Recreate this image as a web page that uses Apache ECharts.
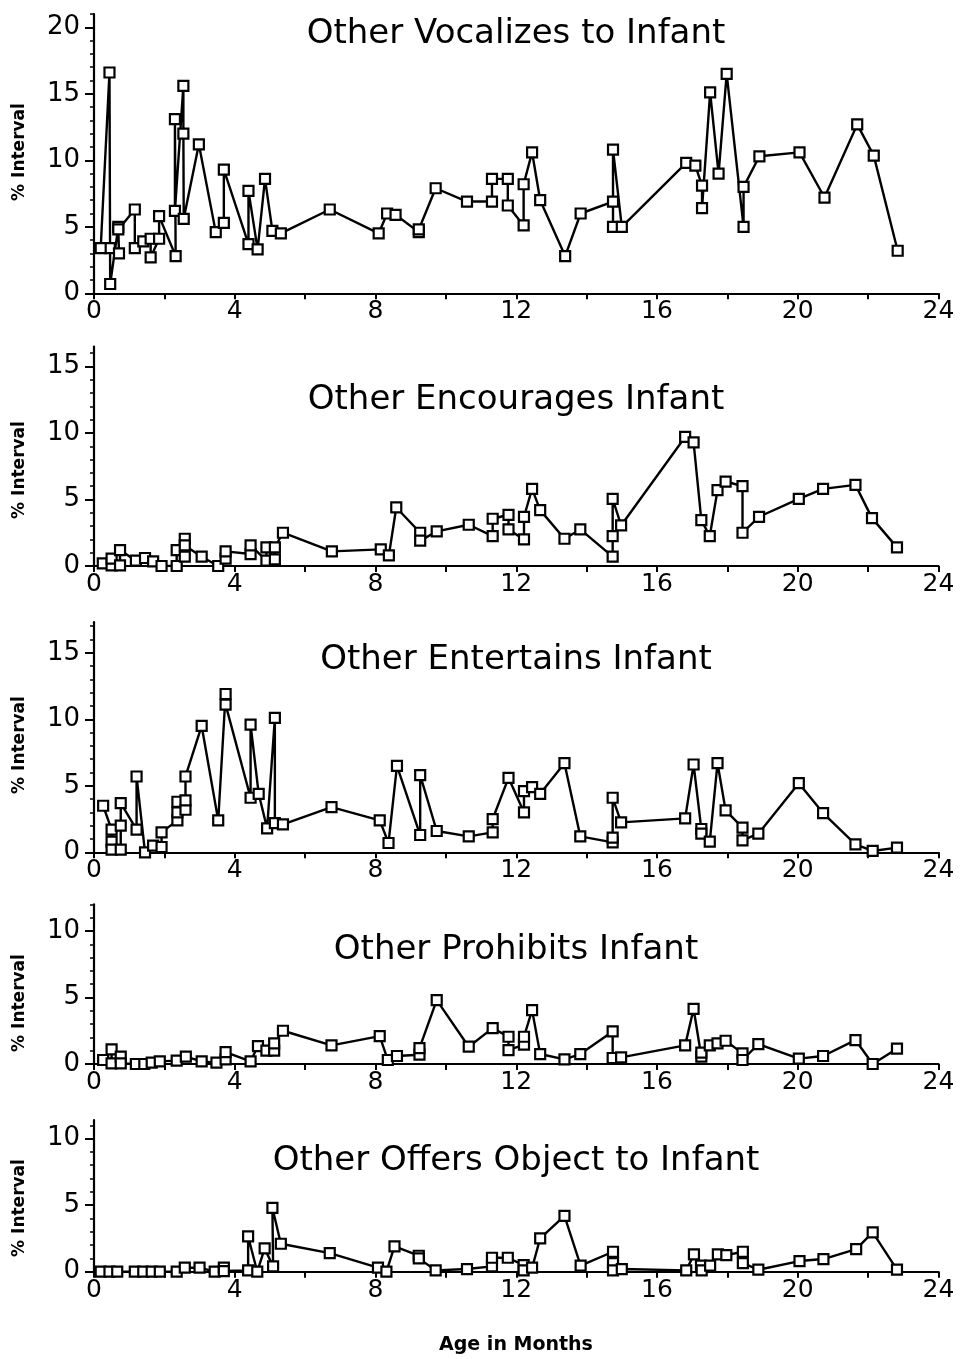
<!DOCTYPE html>
<html>
<head>
<meta charset="utf-8">
<title>Other behaviours by age</title>
<script src="https://cdn.jsdelivr.net/npm/echarts@6/dist/echarts.min.js"></script>
<style>
  html, body { margin: 0; padding: 0; background: #fff; }
  #chart { width: 965px; height: 1359px; }
</style>
</head>
<body>
<div id="chart"></div>
<script>
// [age in months, % interval]
const vocalizes = [
  [0.45, 3.4], [0.19, 3.4], [0.44, 16.6], [0.46, 0.7], [0.69, 5.0], [0.71, 3.0], [0.69, 4.8],
  [1.16, 6.3], [1.16, 3.4], [1.40, 3.9], [1.61, 4.1], [1.61, 2.7], [1.85, 4.1], [1.85, 5.8],
  [2.32, 2.8], [2.30, 13.1], [2.30, 6.2], [2.54, 15.6], [2.54, 12.0], [2.55, 5.6], [2.98, 11.2],
  [3.46, 4.6], [3.69, 5.3], [3.69, 9.3], [4.39, 3.7], [4.39, 7.7], [4.65, 3.3], [4.86, 8.6],
  [5.07, 4.7], [5.31, 4.5], [6.70, 6.3], [8.09, 4.5], [8.33, 6.0], [8.57, 5.9], [9.23, 4.6],
  [9.23, 4.8], [9.71, 7.9], [10.6, 6.9], [11.31, 6.9], [11.31, 8.6], [11.76, 8.6], [11.76, 6.6],
  [12.21, 5.1], [12.21, 8.2], [12.45, 10.6], [12.68, 7.0], [13.39, 2.8], [13.83, 6.0],
  [14.75, 6.9], [14.75, 5.0], [14.75, 10.8], [15.0, 5.0], [16.83, 9.8], [17.09, 9.6],
  [17.28, 8.1], [17.28, 6.4], [17.51, 15.1], [17.75, 9.0], [17.98, 16.5], [18.46, 5.0],
  [18.46, 8.0], [18.91, 10.3], [20.05, 10.6], [20.76, 7.2], [21.69, 12.7], [22.16, 10.35],
  [22.84, 3.2]
]
const encourages = [
  [0.25, 0.2], [0.5, 0.05], [0.5, 0.55], [0.74, 0.05], [0.74, 1.2], [1.19, 0.4], [1.45, 0.6],
  [1.68, 0.35], [1.92, 0.0], [2.35, 0.0], [2.35, 1.2], [2.58, 0.7], [2.58, 2.05], [2.58, 1.55],
  [3.06, 0.7], [3.53, 0.0], [3.74, 0.55], [3.74, 1.1], [4.45, 0.9], [4.45, 1.55], [4.9, 0.4],
  [4.9, 1.4], [5.14, 0.5], [5.14, 1.4], [5.37, 2.5], [6.76, 1.1], [8.15, 1.25], [8.38, 0.8],
  [8.59, 4.4], [9.27, 2.5], [9.27, 1.9], [9.74, 2.6], [10.65, 3.1], [11.33, 2.25], [11.33, 3.55],
  [11.78, 3.85], [11.78, 2.75], [12.22, 2.0], [12.22, 3.7], [12.45, 5.8], [12.68, 4.2],
  [13.37, 2.05], [13.82, 2.75], [14.74, 0.7], [14.74, 2.25], [14.74, 5.05], [14.98, 3.05],
  [16.8, 9.7], [17.04, 9.3], [17.26, 3.45], [17.5, 2.25], [17.72, 5.7], [17.95, 6.35],
  [18.43, 6.0], [18.43, 2.5], [18.9, 3.7], [20.03, 5.05], [20.72, 5.8], [21.64, 6.1],
  [22.11, 3.6], [22.82, 1.4]
]
const entertains = [
  [0.26, 3.5], [0.5, 1.7], [0.5, 0.8], [0.5, 0.2], [0.76, 0.2], [0.76, 2.0], [0.76, 3.7],
  [1.21, 1.7], [1.21, 5.7], [1.45, 0.0], [1.68, 0.5], [1.92, 0.4], [1.92, 1.5], [2.37, 2.4],
  [2.37, 3.0], [2.37, 3.8], [2.6, 3.2], [2.6, 3.9], [2.6, 5.7], [3.06, 9.5], [3.53, 2.4],
  [3.74, 11.9], [3.74, 11.1], [4.45, 4.1], [4.45, 9.6], [4.68, 4.4], [4.92, 1.8], [5.14, 10.1],
  [5.14, 2.2], [5.37, 2.1], [6.75, 3.4], [8.12, 2.4], [8.37, 0.7], [8.61, 6.5], [9.27, 1.3],
  [9.27, 5.8], [9.74, 1.6], [10.65, 1.2], [11.33, 1.5], [11.33, 2.5], [11.78, 5.6], [12.22, 3.0],
  [12.22, 4.6], [12.45, 4.9], [12.68, 4.4], [13.37, 6.7], [13.82, 1.2], [14.74, 0.75],
  [14.74, 1.1], [14.74, 4.1], [14.98, 2.25], [16.8, 2.55], [17.04, 6.6], [17.26, 1.75],
  [17.26, 1.4], [17.5, 0.8], [17.72, 6.7], [17.95, 3.15], [18.43, 1.85], [18.43, 0.9],
  [18.88, 1.4], [20.03, 5.2], [20.72, 2.95], [21.64, 0.6], [22.13, 0.1], [22.82, 0.35]
]
const prohibits = [
  [0.26, 0.3], [0.5, 1.1], [0.5, 0.05], [0.76, 0.55], [0.76, 0.05], [1.19, 0.0], [1.43, 0.0],
  [1.64, 0.1], [1.87, 0.2], [2.35, 0.25], [2.61, 0.55], [3.06, 0.2], [3.48, 0.1], [3.74, 0.35],
  [3.74, 0.9], [4.45, 0.2], [4.66, 1.35], [4.9, 1.0], [5.12, 1.0], [5.12, 1.55], [5.37, 2.5],
  [6.75, 1.4], [8.12, 2.1], [8.35, 0.3], [8.61, 0.6], [9.25, 0.7], [9.25, 1.2], [9.74, 4.8],
  [10.65, 1.3], [11.33, 2.7], [11.78, 2.05], [11.78, 1.05], [12.22, 1.45], [12.22, 2.05],
  [12.45, 4.05], [12.68, 0.75], [13.37, 0.35], [13.82, 0.75], [14.74, 2.45], [14.74, 0.45],
  [14.98, 0.5], [16.8, 1.4], [17.04, 4.15], [17.26, 0.55], [17.26, 0.85], [17.5, 1.4],
  [17.72, 1.55], [17.95, 1.75], [18.43, 0.8], [18.43, 0.3], [18.88, 1.5], [20.03, 0.4],
  [20.72, 0.6], [21.64, 1.8], [22.13, 0.0], [22.82, 1.15]
]
const offersObject = [
  [0.19, 0], [0.44, 0], [0.66, 0], [1.16, 0], [1.40, 0], [1.64, 0], [1.87, 0], [2.35, 0],
  [2.58, 0.3], [3.0, 0.3], [3.43, 0], [3.69, 0.3], [3.69, 0.05], [4.38, 0.1], [4.38, 2.65],
  [4.64, 0], [4.85, 1.75], [5.09, 0.4], [5.07, 4.8], [5.31, 2.1], [6.70, 1.4], [8.07, 0.3],
  [8.31, 0], [8.54, 1.9], [9.23, 1.2], [9.23, 1.0], [9.71, 0.1], [10.6, 0.2], [11.31, 0.4],
  [11.31, 1.05], [11.76, 1.05], [12.21, 0.5], [12.21, 0.1], [12.45, 0.3], [12.68, 2.5],
  [13.37, 4.2], [13.83, 0.45], [14.75, 1.5], [14.75, 0.65], [14.75, 0.1], [15.0, 0.2],
  [16.83, 0.1], [17.05, 1.3], [17.25, 0.45], [17.27, 0.1], [17.51, 0.45], [17.73, 1.3],
  [17.97, 1.25], [18.44, 1.5], [18.44, 0.65], [18.88, 0.15], [20.05, 0.8], [20.73, 0.95],
  [21.66, 1.7], [22.13, 2.95], [22.82, 0.15]
]

const panelTitles = [
  'Other Vocalizes to Infant',
  'Other Encourages Infant',
  'Other Entertains Infant',
  'Other Prohibits Infant',
  'Other Offers Object to Infant'
]
const panelData = [vocalizes, encourages, entertains, prohibits, offersObject]
const yMax = [21, 16.5, 17.3, 12, 11.4]
const yLabelValues = [[0, 5, 10, 15, 20], [0, 5, 10, 15], [0, 5, 10, 15], [0, 5, 10], [0, 5, 10]]
const xAxisTitle = 'Age in Months'
const yAxisTitle = '% Interval'

// layout (px)
const grids = [
  { top: 14, height: 279.3 },
  { top: 346.5, height: 219.5 },
  { top: 622.2, height: 230.1 },
  { top: 904.4, height: 159.6 },
  { top: 1120, height: 151.7 }
]
const titleY = [34, 400, 660, 950, 1161]
const yNameY = [152, 470, 745, 1003, 1208]
const FONT = '"DejaVu Sans", sans-serif'

function intRange(max) {
  const out = []
  for (let i = 0; i <= Math.floor(max); i++) out.push(i)
  return out
}

function drawChart(id) {
  const chart = echarts.init(document.getElementById(id))
  const option = {
    animation: false,
    backgroundColor: '#fff',
    grid: [],
    xAxis: [],
    yAxis: [],
    series: [],
    graphic: []
  }

  panelData.forEach((data, i) => {
    option.grid.push({
      left: 94,
      width: 844.5,
      top: grids[i].top,
      height: grids[i].height,
      containLabel: false,
      outerBoundsMode: 'none'
    })
    option.xAxis.push({
      gridIndex: i,
      type: 'value',
      min: 0,
      max: 24,
      interval: 2,
      splitLine: { show: false },
      axisLine: { show: true, onZero: false, lineStyle: { color: '#000', width: 2.2 } },
      axisTick: { show: true, length: 6, lineStyle: { color: '#000', width: 2 } },
      axisLabel: {
        color: '#000',
        fontFamily: FONT,
        fontSize: 25,
        margin: 6,
        formatter: v => (v % 4 === 0 ? String(v) : '')
      }
    })
    // minor ticks + labels
    option.yAxis.push({
      gridIndex: i,
      type: 'value',
      position: 'left',
      min: 0,
      max: yMax[i],
      splitLine: { show: false },
      axisLine: { show: true, onZero: false, lineStyle: { color: '#000', width: 2.2 } },
      axisTick: { show: true, length: 4, customValues: intRange(yMax[i]), lineStyle: { color: '#000', width: 1.5 } },
      axisLabel: {
        color: '#000',
        fontFamily: FONT,
        fontSize: 26,
        margin: 14,
        customValues: yLabelValues[i]
      }
    })
    // major ticks
    option.yAxis.push({
      gridIndex: i,
      type: 'value',
      position: 'left',
      offset: 0,
      min: 0,
      max: yMax[i],
      splitLine: { show: false },
      axisLine: { show: false },
      axisTick: { show: true, length: 9, customValues: yLabelValues[i], lineStyle: { color: '#000', width: 2 } },
      axisLabel: { show: false }
    })
    option.series.push({
      type: 'line',
      xAxisIndex: i,
      yAxisIndex: i * 2,
      data: data,
      symbol: 'rect',
      symbolSize: 10,
      lineStyle: { color: '#000', width: 2.4 },
      itemStyle: { color: '#fff', borderColor: '#000', borderWidth: 2.2 },
      emphasis: { disabled: true }
    })
    option.graphic.push({
      type: 'text',
      x: 516,
      y: titleY[i],
      style: {
        text: panelTitles[i],
        font: '34px ' + FONT,
        fill: '#000',
        align: 'center',
        verticalAlign: 'middle'
      }
    })
    option.graphic.push({
      type: 'text',
      x: 20,
      y: yNameY[i],
      rotation: Math.PI / 2,
      style: {
        text: yAxisTitle,
        font: 'bold 17px ' + FONT,
        fill: '#000',
        align: 'center',
        verticalAlign: 'middle'
      }
    })
  })

  option.graphic.push({
    type: 'text',
    x: 516,
    y: 1345,
    style: {
      text: xAxisTitle,
      font: 'bold 19px ' + FONT,
      fill: '#000',
      align: 'center',
      verticalAlign: 'middle'
    }
  })

  chart.setOption(option)
  return chart
}

drawChart('chart')
</script>
</body>
</html>
